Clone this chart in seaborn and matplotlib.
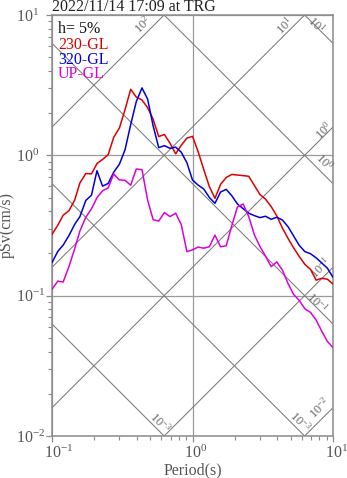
import numpy as np
import pandas as pd
import matplotlib
matplotlib.use("Agg")
import matplotlib.pyplot as plt
import matplotlib.transforms as mtransforms
from matplotlib.ticker import LogLocator, NullFormatter, FixedLocator
import seaborn as sns

# ---------------- data ----------------
title = "2022/11/14 17:09 at TRG"
damping_label = "h= 5%"
components = ["230-GL", "320-GL", "UP-GL"]
colors = ["#dd0000", "#0000dd", "#dd00dd"]

period = [0.100, 0.110, 0.120, 0.132, 0.145, 0.158, 0.174, 0.191, 0.209, 0.229,
          0.251, 0.275, 0.302, 0.331, 0.363, 0.398, 0.437, 0.479, 0.525, 0.575,
          0.631, 0.692, 0.759, 0.832, 0.912, 1.000, 1.096, 1.202, 1.318, 1.445,
          1.585, 1.738, 1.905, 2.089, 2.291, 2.512, 2.754, 3.020, 3.311, 3.631,
          3.981, 4.365, 4.786, 5.248, 5.754, 6.310, 6.918, 7.586, 8.318, 9.120,
          10.00]

psv_230 = [0.273, 0.318, 0.374, 0.403, 0.479, 0.637, 0.742, 0.738, 0.874, 0.935,
           1.010, 1.344, 1.568, 2.117, 2.954, 2.603, 2.479, 2.188, 1.803, 1.361,
           1.407, 1.218, 1.025, 1.180, 1.326, 1.366, 1.063, 0.794, 0.599, 0.494,
           0.622, 0.695, 0.731, 0.724, 0.717, 0.709, 0.611, 0.526, 0.487, 0.431,
           0.370, 0.303, 0.256, 0.219, 0.190, 0.167, 0.154, 0.129, 0.133, 0.131,
           0.121]

psv_320 = [0.172, 0.207, 0.229, 0.268, 0.322, 0.366, 0.477, 0.520, 0.777, 0.603,
           0.630, 0.758, 0.866, 1.096, 1.652, 2.414, 3.023, 2.519, 1.617, 1.135,
           1.172, 1.122, 1.144, 1.052, 0.886, 0.667, 0.614, 0.576, 0.501, 0.455,
           0.548, 0.572, 0.515, 0.450, 0.417, 0.387, 0.372, 0.360, 0.368, 0.350,
           0.362, 0.346, 0.310, 0.266, 0.228, 0.206, 0.199, 0.186, 0.171, 0.157,
           0.135]

psv_up = [0.111, 0.127, 0.125, 0.161, 0.216, 0.289, 0.362, 0.416, 0.499, 0.559,
          0.586, 0.736, 0.668, 0.664, 0.612, 0.799, 0.791, 0.481, 0.348, 0.340,
          0.391, 0.366, 0.387, 0.321, 0.206, 0.212, 0.222, 0.218, 0.223, 0.270,
          0.223, 0.227, 0.316, 0.429, 0.450, 0.367, 0.272, 0.224, 0.191, 0.161,
          0.174, 0.152, 0.122, 0.102, 0.0924, 0.0805, 0.0760, 0.0670, 0.0558, 0.0472,
          0.0427]

# tripartite reference lines
sa_levels = [1e-2, 1e-1, 1e0, 1e1, 1e2]          # pSa (cm/s^2)
sa_labels = ["-2", "-1", "0", "1", "2"]
sd_levels = [1e-3, 1e-2, 1e-1, 1e0, 1e1]          # Sd (cm)
sd_labels = ["-3", "-3", "-1", "0", "1"]

x_ticks = [0.1, 1, 10]
y_ticks = [0.01, 0.1, 1, 10]

# label offsets (pixels, screen: +x right, +y down) from where each line leaves the frame
sa_label_off = [(-13, 0.4), (-12, 1), (-9, 3.4), (-20, 11), (-21, 10)]
sd_label_off = [(-4, -13), (-4.6, -14), (-16, -21), (-9, -21.6), (-17, -19)]

# ---------------- style ----------------
sns.set_style("white")
plt.rcParams["font.family"] = ["Liberation Serif", "DejaVu Serif"]
plt.rcParams["mathtext.fontset"] = "custom"
plt.rcParams["mathtext.rm"] = "Liberation Serif"
plt.rcParams["mathtext.it"] = "Liberation Serif:italic"
plt.rcParams["mathtext.bf"] = "Liberation Serif:bold"

FS = 11.5
GRAY_TXT = "#555555"
SPINE = "#8c8c8c"
DIAG = "#7a7a7a"

fig = plt.figure(figsize=(3.47, 4.78), dpi=100)
ax = fig.add_axes([52 / 347, 1 - 436 / 478, 281 / 347, 421 / 478])
ax.set_xscale("log")
ax.set_yscale("log")
ax.set_xlim(0.1, 10)
ax.set_ylim(0.01, 10)

# grid (major only)
for xv in x_ticks:
    ax.axvline(xv, color="#9a9a9a", lw=0.9, zorder=0.5)
for yv in y_ticks:
    ax.axhline(yv, color="#9a9a9a", lw=0.9, zorder=0.5)

# diagonal lines
T = np.logspace(-1, 1, 50)
two_pi = 2 * np.pi
px2pt = 0.72
for lev, lab, (dx, dy) in zip(sa_levels, sa_labels, sa_label_off):
    ax.plot(T, lev * T / two_pi, color=DIAG, lw=0.75, zorder=1)
    t_top = 10 * two_pi / lev
    if t_top <= 10:
        ex, ey = t_top, 10
    else:
        ex, ey = 10, lev * 10 / two_pi
    ax.annotate(r"$\mathdefault{10^{%s}}$" % lab, xy=(ex, ey), xytext=(dx * px2pt, -dy * px2pt),
                textcoords="offset points", ha="center", va="center", rotation=45,
                rotation_mode="anchor", fontsize=9, color="#666666", annotation_clip=False)
for lev, lab, (dx, dy) in zip(sd_levels, sd_labels, sd_label_off):
    ax.plot(T, two_pi * lev / T, color=DIAG, lw=0.75, zorder=1)
    p_right = two_pi * lev / 10
    if p_right >= 0.01:
        ex, ey = 10, p_right
    else:
        ex, ey = two_pi * lev / 0.01, 0.01
    ax.annotate(r"$\mathdefault{10^{%s}}$" % lab, xy=(ex, ey), xytext=(dx * px2pt, -dy * px2pt),
                textcoords="offset points", ha="center", va="center", rotation=-45,
                rotation_mode="anchor", fontsize=9, color="#666666", annotation_clip=False)

# spectra
df = pd.DataFrame({
    "Period": period * 3,
    "pSv": psv_230 + psv_320 + psv_up,
    "comp": [c for c in components for _ in period],
})
sns.lineplot(data=df, x="Period", y="pSv", hue="comp", hue_order=components,
             palette=dict(zip(components, colors)), legend=False, estimator=None,
             sort=False, lw=1.1, ax=ax, zorder=3)

ax.set_xlim(0.1, 10)
ax.set_ylim(0.01, 10)

# spines / ticks
for s in ax.spines.values():
    s.set_color(SPINE)
    s.set_linewidth(1.1)
ax.xaxis.set_major_locator(FixedLocator(x_ticks))
ax.yaxis.set_major_locator(FixedLocator(y_ticks))
ax.xaxis.set_minor_locator(LogLocator(base=10, subs=np.arange(2, 10)))
ax.yaxis.set_minor_locator(LogLocator(base=10, subs=np.arange(2, 10)))
ax.xaxis.set_minor_formatter(NullFormatter())
ax.yaxis.set_minor_formatter(NullFormatter())
ax.tick_params(which="major", direction="out", length=4.3, width=0.9, color=SPINE,
               labelsize=FS, labelcolor=GRAY_TXT, bottom=True, left=True)
ax.tick_params(which="minor", direction="out", length=2.8, width=0.8, color=SPINE,
               bottom=True, left=True)
ax.tick_params(axis="x", which="major", pad=2.0)
ax.tick_params(axis="y", which="major", pad=21.5)
ax.set_xlabel("Period(s)", fontsize=FS, color=GRAY_TXT, labelpad=0.5)
ax.set_ylabel("pSv(cm/s)", fontsize=FS, color=GRAY_TXT, labelpad=1)

fig.canvas.draw()
for lab in ax.get_yticklabels():
    lab.set_horizontalalignment("left")
shift = mtransforms.ScaledTranslation(-0.08, 0, fig.dpi_scale_trans)
for lab in ax.get_xticklabels():
    lab.set_horizontalalignment("left")
    lab.set_transform(lab.get_transform() + shift)

ax.set_title(title, loc="left", fontsize=FS, color="#222222", pad=3.0)

# text legend
leg_y = [0.957, 0.919, 0.8836, 0.850]
leg_txt = [damping_label] + components
leg_col = ["#111111"] + colors
for yy, tt, cc in zip(leg_y, leg_txt, leg_col):
    ax.text(6 / 281, yy, tt, transform=ax.transAxes, fontsize=FS, color=cc,
            va="baseline", ha="left", zorder=4)

fig.savefig("out.png", dpi=100)
